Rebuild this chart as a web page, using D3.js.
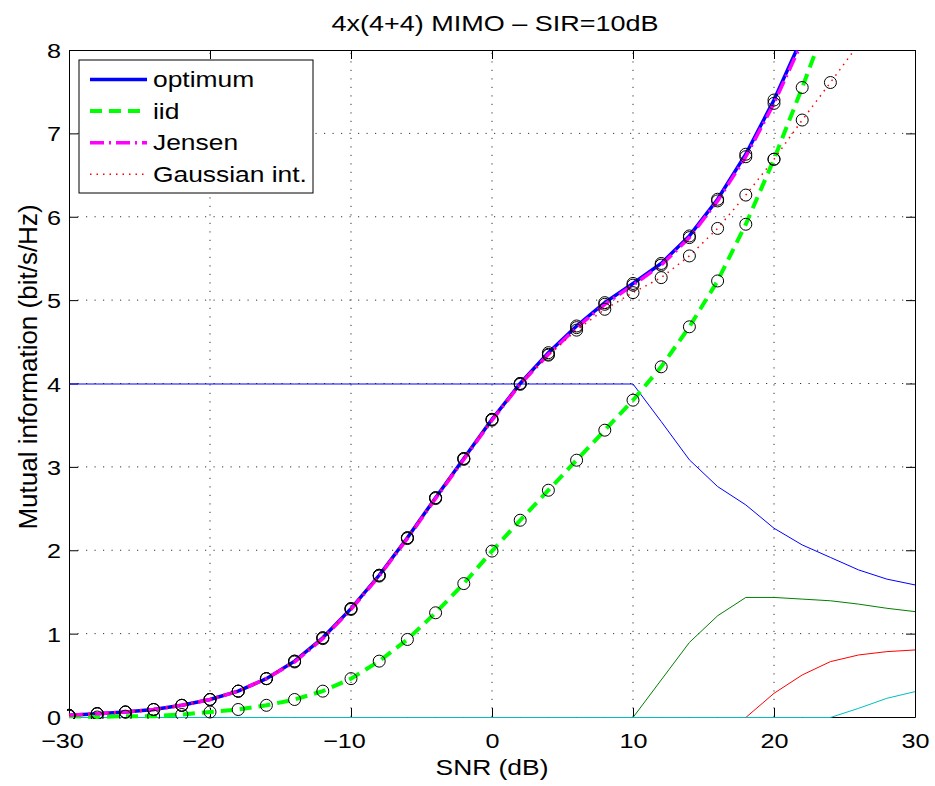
<!DOCTYPE html>
<html>
<head>
<meta charset="utf-8">
<script src="https://cdn.jsdelivr.net/npm/d3@7"></script>
<style>
  body { margin: 0; background: #fff; }
  svg { font-family: "Liberation Sans", Arial, sans-serif; }
  .st { transform-box: fill-box; transform-origin: center; transform: scaleX(1.2); }
  .st-end { transform-box: fill-box; transform-origin: right center; transform: scaleX(1.2); }
  .st-start { transform-box: fill-box; transform-origin: left center; transform: scaleX(1.2); }
</style>
</head>
<body>
<div id="chart"></div>
<script>
// SNR grid (dB)
var snr = [-30, -28, -26, -24, -22, -20, -18, -16, -14, -12, -10, -8, -6, -4, -2, 0,
           2, 4, 6, 8, 10, 12, 14, 16, 18, 20, 22, 24, 26, 28, 30];

// thick curves
var optimum = [0.02, 0.04, 0.06, 0.09, 0.14, 0.21, 0.31, 0.46, 0.67, 0.95, 1.30, 1.70, 2.15, 2.63, 3.10, 3.57,
               4.00, 4.37, 4.69, 4.97, 5.20, 5.44, 5.77, 6.21, 6.75, 7.40, 8.15, 8.95, 9.80, 10.7, 11.6];
var jensen  = [0.02, 0.04, 0.06, 0.09, 0.14, 0.21, 0.31, 0.46, 0.66, 0.94, 1.29, 1.69, 2.14, 2.62, 3.09, 3.56,
               3.99, 4.35, 4.67, 4.95, 5.18, 5.42, 5.75, 6.19, 6.72, 7.36, 8.10, 8.90, 9.75, 10.6, 11.5];
var iid     = [0.01, 0.00, 0.01, 0.01, 0.03, 0.06, 0.09, 0.14, 0.21, 0.31, 0.46, 0.67, 0.93, 1.25, 1.60, 1.99,
               2.36, 2.72, 3.08, 3.44, 3.80, 4.20, 4.68, 5.23, 5.91, 6.69, 7.55, 8.45, 9.40, 10.3, 11.2];
var gauss   = [0.02, 0.04, 0.06, 0.09, 0.14, 0.21, 0.31, 0.46, 0.67, 0.95, 1.30, 1.70, 2.15, 2.63, 3.10, 3.57,
               4.00, 4.34, 4.64, 4.89, 5.09, 5.27, 5.53, 5.86, 6.26, 6.69, 7.16, 7.61, 8.07, 8.55, 9.00];

// thin lines (per-stream rates)
var thin1 = [4, 4, 4, 4, 4, 4, 4, 4, 4, 4, 4, 4, 4, 4, 4, 4,
             4, 4, 4, 4, 4, 3.55, 3.09, 2.77, 2.55, 2.27, 2.07, 1.92, 1.77, 1.66, 1.59];
var thin2 = [0, 0, 0, 0, 0, 0, 0, 0, 0, 0, 0, 0, 0, 0, 0, 0,
             0, 0, 0, 0, 0, 0.45, 0.90, 1.22, 1.44, 1.44, 1.42, 1.40, 1.36, 1.31, 1.27];
var thin3 = [0, 0, 0, 0, 0, 0, 0, 0, 0, 0, 0, 0, 0, 0, 0, 0,
             0, 0, 0, 0, 0, 0, 0, 0, 0, 0.29, 0.51, 0.67, 0.75, 0.79, 0.81];
var thin4 = [0, 0, 0, 0, 0, 0, 0, 0, 0, 0, 0, 0, 0, 0, 0, 0,
             0, 0, 0, 0, 0, 0, 0, 0, 0, 0, 0, 0, 0.11, 0.23, 0.31];

var xTicks = [-30, -20, -10, 0, 10, 20, 30],
    yTicks = [0, 1, 2, 3, 4, 5, 6, 7, 8];

var legendNames = ['optimum', 'iid', 'Jensen', 'Gaussian int.'];

var W = 935, H = 786;
var margin = {top: 50, right: 20, bottom: 69, left: 69};

var x = d3.scaleLinear().domain([-30, 30]).range([margin.left, W - margin.right]),
    y = d3.scaleLinear().domain([0, 8]).range([H - margin.bottom, margin.top]);

var svg = d3.select('#chart').append('svg')
            .attr('width', W)
            .attr('height', H);

svg.append('defs').append('clipPath')
   .attr('id', 'clip')
   .append('rect')
   .attr('x', x(-30) - 2)
   .attr('y', y(8))
   .attr('width', x(30) - x(-30) + 4)
   .attr('height', y(0) - y(8) + 2);

// grid
var grid = svg.append('g').attr('class', 'grid');
grid.selectAll('.gx')
    .data(xTicks.slice(1, -1))
    .enter().append('line')
    .attr('x1', function(d) { return x(d); })
    .attr('x2', function(d) { return x(d); })
    .attr('y1', y(0))
    .attr('y2', y(8));
grid.selectAll('.gy')
    .data(yTicks.slice(1, -1))
    .enter().append('line')
    .attr('x1', x(-30))
    .attr('x2', x(30))
    .attr('y1', function(d) { return y(d); })
    .attr('y2', function(d) { return y(d); });
grid.selectAll('line')
    .attr('stroke', '#333')
    .attr('stroke-width', 1)
    .attr('stroke-dasharray', '1.2,7.3');

// axes (ticks inside, box on all sides)
function fmt(d) { return d < 0 ? '\u2212' + Math.abs(d) : String(d); }

var gBottom = svg.append('g')
   .attr('transform', 'translate(0,' + y(0) + ')')
   .call(d3.axisBottom(x).tickValues(xTicks).tickSizeInner(-9).tickSizeOuter(0).tickFormat(fmt));
gBottom.selectAll('text')
   .attr('y', 31).attr('dy', 0)
   .attr('dx', function(d) { return d < 0 ? -7 : 0; })
   .attr('class', 'st');

var gLeft = svg.append('g')
   .attr('transform', 'translate(' + x(-30) + ',0)')
   .call(d3.axisLeft(y).tickValues(yTicks).tickSizeInner(-9).tickSizeOuter(0).tickFormat(fmt));
gLeft.selectAll('text')
   .attr('x', -8).attr('dy', '0.36em')
   .attr('class', 'st-end');

svg.append('g')
   .attr('transform', 'translate(0,' + y(8) + ')')
   .call(d3.axisTop(x).tickValues(xTicks).tickSizeInner(-9).tickSizeOuter(0).tickFormat(''));
svg.append('g')
   .attr('transform', 'translate(' + x(30) + ',0)')
   .call(d3.axisRight(y).tickValues(yTicks).tickSizeInner(-9).tickSizeOuter(0).tickFormat(''));

svg.selectAll('.domain, .tick line').attr('stroke', '#000').attr('stroke-width', 1);
svg.selectAll('.tick text').attr('font-size', 21).attr('fill', '#000').attr('font-family', null);

// data
var plot = svg.append('g').attr('clip-path', 'url(#clip)');

function line(vals) {
  return d3.line()
           .x(function(d, i) { return x(snr[i]); })
           .y(function(d) { return y(d); })(vals);
}

var thinLines = [
  {v: thin1, c: '#0000ff'},
  {v: thin2, c: '#008000'},
  {v: thin3, c: '#ff0000'},
  {v: thin4, c: '#00bfbf'}
];
thinLines.forEach(function(t) {
  plot.append('path')
      .attr('d', line(t.v))
      .attr('transform', 'translate(0,0.5)')
      .attr('fill', 'none')
      .attr('stroke', t.c)
      .attr('stroke-width', 1);
});

var curves = [
  {v: optimum, c: '#0000ff', w: 3.5, dash: null},
  {v: iid,     c: '#00ff00', w: 4,   dash: '12,7'},
  {v: jensen,  c: '#ff00ff', w: 3.5, dash: '14,5,2,5'},
  {v: gauss,   c: '#ff0000', w: 1.5, dash: '1.5,5'}
];
curves.forEach(function(s) {
  plot.append('path')
      .attr('d', line(s.v))
      .attr('fill', 'none')
      .attr('stroke', s.c)
      .attr('stroke-width', s.w)
      .attr('stroke-dasharray', s.dash);
});

// simulation markers
[optimum, jensen, iid, gauss].forEach(function(vals) {
  plot.selectAll(null)
      .data(vals.filter(function(d) { return d <= 8.1; }))
      .enter().append('circle')
      .attr('cx', function(d, i) { return x(snr[i]); })
      .attr('cy', function(d) { return y(d); })
      .attr('r', 6)
      .attr('fill', 'none')
      .attr('stroke', '#000')
      .attr('stroke-width', 1);
});

// legend
var legend = svg.append('g');
legend.append('rect')
      .attr('x', 79).attr('y', 60)
      .attr('width', 234).attr('height', 133)
      .attr('fill', '#fff')
      .attr('stroke', '#000')
      .attr('stroke-width', 1);

var item = legend.selectAll('.item')
      .data(curves)
      .enter().append('g')
      .attr('transform', function(d, i) { return 'translate(0,' + (79.5 + i * 31.6) + ')'; });
item.append('line')
    .attr('x1', 90).attr('x2', 147)
    .attr('stroke', function(d) { return d.c; })
    .attr('stroke-width', function(d) { return d.w; })
    .attr('stroke-dasharray', function(d) { return d.dash; });
item.append('text')
    .attr('x', 153).attr('y', 7.5)
    .attr('font-size', 22)
    .attr('class', 'st-start')
    .text(function(d, i) { return legendNames[i]; });

// titles
svg.append('text')
   .attr('x', 495).attr('y', 31)
   .attr('text-anchor', 'middle')
   .attr('font-size', 22.5)
   .attr('class', 'st')
   .text('4x(4+4) MIMO \u2013 SIR=10dB');

svg.append('text')
   .attr('x', 492).attr('y', 775)
   .attr('text-anchor', 'middle')
   .attr('font-size', 22)
   .attr('class', 'st')
   .text('SNR (dB)');

svg.append('text')
   .attr('transform', 'translate(37,367) rotate(-90)')
   .attr('text-anchor', 'middle')
   .attr('font-size', 26)
   .text('Mutual information (bit/s/Hz)');
</script>
</body>
</html>
